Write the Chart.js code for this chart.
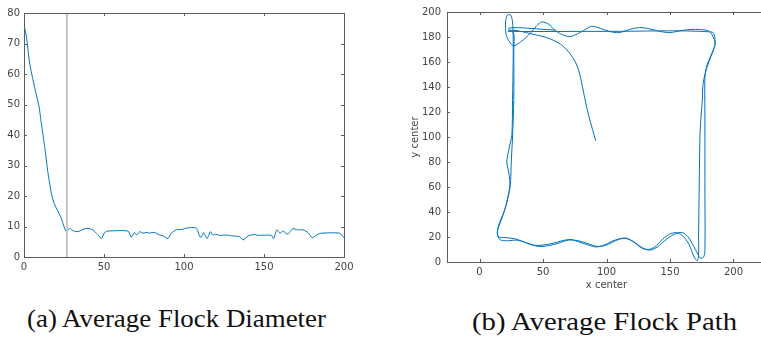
<!DOCTYPE html>
<html>
<head>
<meta charset="utf-8">
<script src="https://cdn.jsdelivr.net/npm/chart.js@4.4.0/dist/chart.umd.min.js"></script>
<style>
  html, body { margin: 0; padding: 0; background: #fff; overflow: hidden; width: 761px; height: 337px; }
  .box { position: absolute; }
  .caption { position: absolute; font-family: "Liberation Serif", serif; font-size: 25px; line-height: 28px; color: #111; white-space: nowrap; transform-origin: left top; }
</style>
</head>
<body>
<div class="box" style="left:0;top:0;width:360px;height:285px"><canvas id="diamChart"></canvas></div>
<div class="box" style="left:380px;top:0;width:400px;height:295px"><canvas id="pathChart"></canvas></div>
<div class="caption" id="capA" style="left:27px;top:305px">(a) Average Flock Diameter</div>
<div class="caption" id="capB" style="left:472px;top:308px">(b) Average Flock Path</div>
<script>
// (a) average flock diameter over time
const diamT = [0, 1.5, 3.5, 5.6, 7.7, 9.4, 10.8, 12.9, 15, 17.1, 18.8, 21.3, 23.3, 25.4, 26.5, 28.5, 30.6, 33.8, 36.9, 40, 43, 46, 48.3, 50.4, 52.5, 65, 67, 69, 70.6, 72.3, 74.4, 76.5, 78.5, 80.6, 82.7, 84.8, 86.9, 90, 92, 95.2, 99.4, 101.5, 107.7, 109.8, 110.8, 112.3, 114.4, 116.5, 118, 120, 122, 126.5, 130.6, 134.8, 137, 140, 144, 146, 154.6, 156, 158, 160, 162, 164.4, 166, 168, 171, 174.4, 177.5, 180.2, 182.7, 185.8, 197.3, 200];
const diamV = [76.1, 72.3, 63.6, 58.1, 53.2, 49.3, 43.9, 36.2, 27.5, 20.9, 17.6, 14.9, 12.7, 9.4, 8.3, 9.4, 8.6, 8.3, 9.1, 9.4, 8.9, 7.4, 6.1, 8.0, 8.5, 8.5, 6.5, 8.0, 7.2, 8.3, 7.8, 8.1, 7.8, 8.1, 7.8, 7.2, 6.9, 6.1, 7.8, 8.9, 9.1, 9.5, 9.5, 6.7, 6.5, 8.0, 6.0, 8.3, 7.2, 7.5, 7.1, 7.2, 6.9, 6.7, 5.6, 6.9, 7.4, 7.1, 7.1, 6.0, 8.9, 7.8, 8.5, 7.5, 8.0, 9.3, 8.9, 8.9, 8.0, 6.3, 7.2, 7.8, 7.8, 6.3];
const markerT = 26.8;
const diamXTicks = [0, 50, 100, 150, 200];
const diamYTicks = [0, 10, 20, 30, 40, 50, 60, 70, 80];

// (b) average flock path (x center, y center)
const pathX = [91.5, 89, 86, 83.5, 80.5, 78.5, 75.5, 71, 66, 61, 53, 45, 37, 30, 24, 22.5,
  100, 183, 185.5, 185, 182, 178, 176, 175.5, 174, 173.5, 173, 172.5, 172.5, 171.5, 169, 165, 160, 155, 149, 143, 138, 133, 128, 122, 116, 110, 104, 98, 92, 86, 80, 72, 65, 58, 50, 42, 35, 28, 20, 15, 14, 15, 18, 21.5, 24, 23, 21.5, 23.5, 25.5, 26, 26.5, 26.5, 26, 24.5, 22, 20.5, 21, 24, 27, 33, 40, 45, 49, 54, 60, 66, 72, 80, 88, 95, 102, 110, 118, 126, 134, 142, 150, 158, 166, 174, 181, 184.5, 185.5, 183, 179, 177.5, 177.5, 177.5, 177.5, 176.5, 174,
  170, 165, 160, 154, 147, 140, 134, 128, 121, 114, 107, 100, 93, 86, 78, 70, 62, 54, 46, 38, 30, 22, 16, 14, 16, 20, 23, 24.5, 25, 26, 27, 27, 27, 24, 23, 30, 45, 60];
const pathY = [97, 106, 117, 128, 143, 152, 160, 167, 172.5, 176, 179.5, 181.5, 183.5, 185, 185.5, 184.5,
  184.5, 184, 178, 172, 164, 152, 142, 130, 110, 96, 60, 20, 6, 1, 4, 14, 21, 23.5, 22, 17, 12, 10, 11, 15.5, 19, 18.5, 16.5, 13.5, 12, 13.5, 15.5, 18, 17, 15, 13.5, 13.5, 16, 18.5, 19.5, 20, 23, 28, 36, 48, 60, 72, 80, 92, 102, 130, 160, 180, 192, 197.5, 197.5, 192, 182, 175.5, 173, 176.5, 183, 189, 192, 190.5, 185, 181.5, 180.5, 184, 188.5, 187, 184.5, 183.5, 186, 187.5, 186.5, 184.5, 183.5, 185, 186, 186, 184.5, 179, 174, 167, 157, 148, 120, 60, 10, 4, 3,
  10, 19, 23.5, 22.5, 18, 12, 9.5, 11.5, 16.5, 19, 17, 13.5, 12.5, 14.5, 17, 17.5, 15, 13, 12.5, 15, 17.5, 17, 18, 24, 32, 42, 55, 65, 80, 100, 130, 170, 183, 185, 187, 187.5, 186.5, 185.5];
const pathXTicks = [0, 50, 100, 150, 200];
const pathYTicks = [0, 20, 40, 60, 80, 100, 120, 140, 160, 180, 200];

const lineBlue = "#0072BD";
const axisGray = "#5c5c5c";
const labelGray = "#444444";
const tickFont = { family: "DejaVu Sans", size: 10 };

// matlab style box with inward ticks
const boxPlugin = {
  id: "box",
  afterDraw(chart) {
    const { ctx, chartArea: a, scales } = chart;
    ctx.save();
    ctx.strokeStyle = axisGray;
    ctx.lineWidth = 1;
    ctx.strokeRect(Math.round(a.left) + 0.5, Math.round(a.top) + 0.5, Math.round(a.right - a.left), Math.round(a.bottom - a.top));
    ctx.beginPath();
    scales.x.ticks.forEach((t) => {
      const px = Math.round(scales.x.getPixelForValue(t.value)) + 0.5;
      ctx.moveTo(px, a.bottom); ctx.lineTo(px, a.bottom - 3);
      ctx.moveTo(px, a.top); ctx.lineTo(px, a.top + 3);
    });
    scales.y.ticks.forEach((t) => {
      const py = Math.round(scales.y.getPixelForValue(t.value)) + 0.5;
      ctx.moveTo(a.left, py); ctx.lineTo(a.left + 3, py);
      ctx.moveTo(a.right, py); ctx.lineTo(a.right - 3, py);
    });
    ctx.stroke();
    ctx.restore();
  },
};

function fixedTicks(values) {
  return (scale) => { scale.ticks = values.map((v) => ({ value: v })); };
}

const diamData = diamT.map((t, i) => ({ x: t, y: diamV[i] }));
new Chart(document.getElementById("diamChart"), {
  type: "scatter",
  data: {
    datasets: [
      {
        data: [{ x: markerT, y: 0 }, { x: markerT, y: 80 }],
        showLine: true,
        borderColor: "#c2c2c2",
        borderWidth: 2,
        pointRadius: 0,
      },
      {
        data: diamData,
        showLine: true,
        borderColor: lineBlue,
        borderWidth: 1,
        pointRadius: 0,
        tension: 0.2,
      },
    ],
  },
  options: {
    responsive: true,
    maintainAspectRatio: false,
    animation: false,
    layout: { padding: { top: 13, right: 16, left: 0, bottom: 0 } },
    plugins: { legend: { display: false }, tooltip: { enabled: false } },
    scales: {
      x: {
        type: "linear", min: 0, max: 200,
        afterBuildTicks: fixedTicks(diamXTicks),
        afterFit: (s) => { s.height = 28; },
        grid: { display: false, drawTicks: false },
        border: { display: false },
        ticks: { font: tickFont, color: labelGray, padding: 4, maxRotation: 0 },
      },
      y: {
        type: "linear", min: 0, max: 80,
        afterBuildTicks: fixedTicks(diamYTicks),
        afterFit: (s) => { s.width = 24; },
        grid: { display: false, drawTicks: false },
        border: { display: false },
        ticks: { font: tickFont, color: labelGray, padding: 4 },
      },
    },
  },
  plugins: [boxPlugin],
});

const pathData = pathX.map((x, i) => ({ x, y: pathY[i] }));
new Chart(document.getElementById("pathChart"), {
  type: "scatter",
  data: {
    datasets: [
      {
        data: pathData,
        showLine: true,
        borderColor: lineBlue,
        borderWidth: 1,
        pointRadius: 0,
        tension: 0.3,
      },
    ],
  },
  options: {
    responsive: true,
    maintainAspectRatio: false,
    animation: false,
    layout: { padding: { top: 8, right: 14, left: 0, bottom: 0 } },
    plugins: { legend: { display: false }, tooltip: { enabled: false } },
    scales: {
      x: {
        type: "linear", min: -25.6, max: 225.6,
        afterBuildTicks: fixedTicks(pathXTicks),
        afterFit: (s) => { s.height = 33; },
        grid: { display: false, drawTicks: false },
        border: { display: false },
        ticks: { font: tickFont, color: labelGray, padding: 4, maxRotation: 0 },
        title: { display: true, text: "x center", font: tickFont, color: labelGray, padding: { top: 0, bottom: 4 } },
      },
      y: {
        type: "linear", min: 0, max: 200,
        afterBuildTicks: fixedTicks(pathYTicks),
        afterFit: (s) => { s.width = 67; },
        grid: { display: false, drawTicks: false },
        border: { display: false },
        ticks: { font: tickFont, color: labelGray, padding: 6 },
        title: { display: true, text: "y center", font: tickFont, color: labelGray, padding: { top: 29, bottom: 0 } },
      },
    },
  },
  plugins: [boxPlugin],
});

// fit the captions to the width they take in the figure
[["capA", 299], ["capB", 265]].forEach(([id, w]) => {
  const el = document.getElementById(id);
  el.style.transform = `scaleX(${w / el.getBoundingClientRect().width})`;
});
</script>
</body>
</html>
